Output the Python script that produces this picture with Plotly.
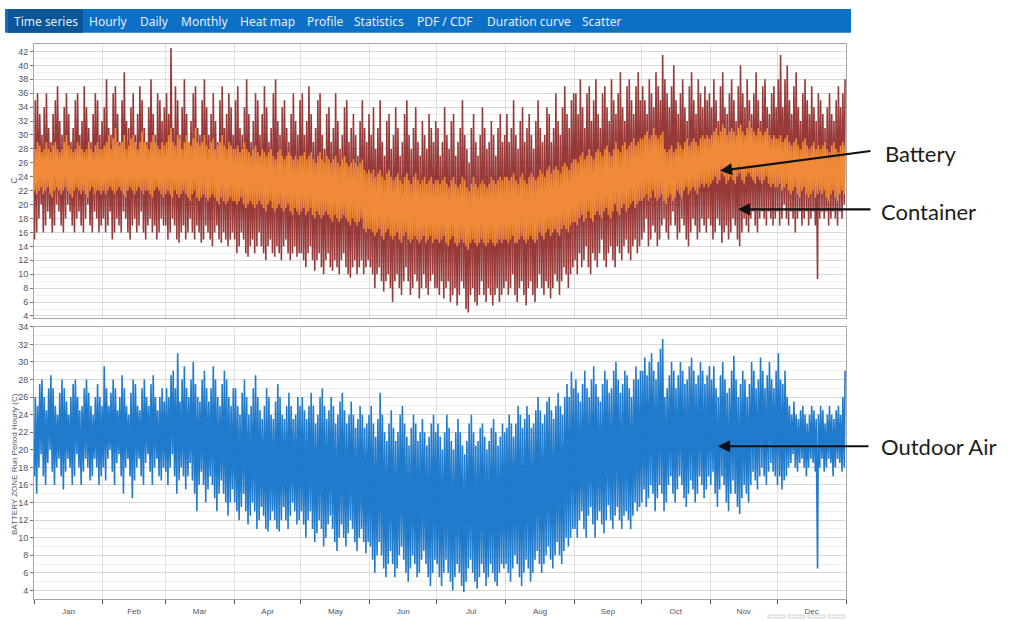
import datetime as dt
import plotly.graph_objects as go

W, H = 1012, 621

# ---- daily maxima / minima (deg C), Jan..Dec ----
container_hi = [
    35,36,33,30,34,36,31,29,33,35,37,32,30,34,36,33,29,31,35,36,30,32,37,34,31,29,33,36,35,30,32,
    34,38,31,30,36,37,33,29,35,39,32,31,34,36,30,33,37,35,31,29,34,38,33,30,36,35,32,34,
    36,33,42.5,31,37,35,30,34,38,33,29,32,36,37,31,30,35,38,34,30,33,36,32,29,35,37,31,33,36,34,30,
    35,37,31,30,34,38,33,29,32,36,35,30,33,37,34,29,31,36,38,32,30,34,35,31,29,33,36,32,30,35,
    36,30,32,37,33,29,31,35,36,30,28,33,34,29,31,36,32,28,30,34,35,29,31,33,30,27,32,35,31,29,33,
    30,34,28,31,35,29,27,32,33,28,30,34,31,27,29,33,35,30,28,31,34,29,27,32,30,28,33,31,29,32,
    31,27,29,34,30,28,32,33,27,29,31,35,30,28,26,31,33,29,27,30,34,31,28,29,32,30,27,31,33,29,30,
    33,29,31,35,30,28,32,34,29,31,33,30,28,32,35,31,29,30,34,33,29,31,36,32,30,34,37,33,31,35,36,
    36,33,38,34,31,36,37,32,35,38,33,31,36,37,34,32,38,35,33,36,39,34,32,37,38,35,33,37,39,35,
    37,35,33,38,36,34,39,37,35,41.5,38,36,34,37,40,35,33,36,38,34,32,37,39,35,33,38,36,34,37,35,36,
    34,38,35,32,37,39,34,33,36,38,35,32,37,40,36,34,38,35,33,36,39,35,32,37,38,34,33,36,37,34,
    38,41.5,34,38,40,35,33,37,39,34,32,36,38,35,33,37,34,32,36,35,33,31,34,36,33,32,35,37,34,36,38,
]
container_lo = [
    15,16,18,20,16,17,19,18,16,17,20,19,17,16,18,20,19,17,16,18,19,17,16,18,20,17,16,19,18,16,17,
    18,16,17,19,15,16,18,17,16,19,18,16,15,17,18,16,17,19,16,15,17,18,16,17,15,16,18,17,
    17,15,16,18,17,15,14.5,16,17,15,16,18,16,15,17,16,14.5,15,17,16,15,14,16,17,15,14.5,16,15,14,15,16,
    15,13,14,16,15,13,12.5,14,15,13,14,16,14,13,12,14,15,13,12.5,14,13,12,14,15,13,12,13,14,12.5,13,
    13,12,11,13,14,12,10.5,12,13,11,10,12,13,11,10.5,12,11,10,12,13,11,10,9.5,11,12,10,11,12,10,11,12,
    11,10,8,10,11,9,7.5,9,10,8,6,9,10,8,7,9,11,9,7,8,10,9,6.5,8,10,8,7,9,10,8,
    8,7,9,6.5,8,9,6,7,8,5.5,7,9,8,5,4.5,7,8,6,5.5,7,9,7,6,8,7,5.5,7,8,6,7,8,
    9,7,8,10,7,6,8,9,7,5.5,8,9,7,6,8,10,8,7,9,8,6.5,8,10,9,7,9,11,10,8,10,11,
    12,10,13,11,12,14,11,10,13,12,11,13,15,12,11,13,14,12,11,14,13,12,14,15,13,12,14,15,13,14,
    15,16,18,14,15,17,16,14,15,17,18,16,15,17,19,17,15,16,18,17,15,14,16,18,17,15,16,18,17,16,18,
    17,15,16,18,17,14.5,16,17,15,16,18,17,15,14,16,18,17,16,18,19,17,16,18,19,18,17,19,18,17,18,
    19,17,18,20,18,17,19,18,16,18,19,17,18,19,17,18,19,17,9.3,18,19,18,19,17,18,19,18,17,19,18,20,
]
battery_hi = [
    28,29,28.5,27.5,28,29,28,27.5,28.5,29,28,27.5,28,29,30,28.5,28,27.5,28,29,28.5,28,27.5,28,29,28,27.5,28.5,29,28,28,
    28.5,29,30,28,29.5,31,29,28.5,29,30,28,28.5,29.5,30,29,28,29,30.5,29,28.5,28,29,30,29,28.5,28,29,28.5,
    29,30,31,29,28.5,30,29.5,28,29,30,29,28.5,29.5,31,29,28.5,29,30,28.5,28,29,29.5,28,28.5,29,30,28.5,28,29,28.5,28,
    28,28.5,27.5,28,29,28,27.5,27,28,28.5,27.5,27,28,27.5,27,27.5,28,27,26.5,27.5,28,27,26.5,27,27.5,27,26.5,27,26.5,27,
    27,27.5,26.5,27,27.5,26.5,26,27,27.5,26.5,26,27,26.5,26,26.5,27,26,25.5,26.5,27,26,25.5,26,26.5,26,25.5,26,26.5,25,24.5,25,
    24.5,25,24,24.5,25,24,23.5,24.5,25,24,23.5,24,24.5,23.5,23,24,24.5,23.5,23,24,24.5,23.5,23,23.5,24,23,23.5,24,23,23.5,
    23.5,23,23.5,24,23,22.5,23.5,24,23,22.5,23,24,23.5,22.5,22,23,24,23,22.5,23,23.5,23,22.5,23,24,23.5,23,23.5,24,23.5,24,
    24,23.5,24,24.5,23.5,23,24,24.5,23.5,23,24,24.5,24,23.5,24,25,24.5,24,25,25.5,24.5,25,25.5,25,24.5,25.5,26,25.5,25,26,26.5,
    26.5,26,27,27.5,26.5,27,28,27,26.5,27.5,28,27.5,27,28,28.5,27.5,27,28,29,28,27.5,28.5,29,28,28.5,29,29.5,28.5,29,29.5,
    29.5,30,30.5,29.5,30,31,30,29.5,30,30.5,28,27.5,28,28.5,27.5,28,29,28.5,28,29,29.5,28.5,29,29.5,29,28.5,29.5,30,29.5,30,29.5,
    30,30.5,31,30,30.5,31.5,31,30,30.5,31,30.5,30,31,31.5,30.5,30,31,32,31,30.5,30,31,30.5,30,30.5,31,30,29.5,30,29.5,
    29.5,30,29,29.5,30,29,28.5,29,29.5,28.5,28,29,29.5,28.5,28,28.5,29,28,28.5,28,28.5,29,28,27.5,28.5,29,28,27.5,28.5,29,28.5,
]
battery_lo = [
    22,21.5,22,22.5,21.5,22,22.5,21.5,21,22,22.5,22,21.5,22,22.5,22,21.5,21,22,22.5,22,21.5,22,21.5,21,22,22.5,21.5,22,22,21.5,
    22,21.5,22,22.5,22,21.5,22,22.5,22,21.5,21,22,22.5,22,21.5,22,22.5,22,21.5,22,22,21.5,21,22,22.5,22,21.5,21,
    21.5,22,21.5,21,22,21.5,21,21.5,22,21.5,21,20.5,21.5,22,21,20.5,21,21.5,21,20.5,21,21.5,21,20.5,20,21,20.5,20,20.5,21,20.5,
    20.5,20,20.5,21,20,19.5,20,20.5,20,19.5,20,20.5,20,19.5,19,20,20.5,19.5,19,19.5,20,19.5,19,19.5,20,19,18.5,19.5,19,18.5,
    19,19.5,18.5,19,19.5,18.5,18,19,18.5,18,18.5,19,18.5,18,17.5,18.5,18,17.5,18,18.5,18,17.5,17,18,17.5,17,17.5,18,16.5,16,16.5,
    16.5,16,15.5,16,16.5,15.5,15,16,16.5,15.5,15,15.5,16,15,14.5,15.5,16,15,14.5,15,15.5,15,14.5,15,15.5,14.5,15,15.5,14.5,15,
    15,14.5,15,15.5,14.5,14,15,15.5,14.5,14,14.5,15,14.5,14,13.5,14.5,15,14.5,14,14.5,15,14.5,14,14.5,15,14.5,14,14.5,15,14.5,15,
    15,14.5,15,15.5,14.5,14.5,15,15.5,15,14.5,15,15.5,15,14.5,15,16,15.5,15,16,16.5,15.5,16,16.5,16,15.5,16.5,17,16.5,16,17,17.5,
    17.5,17,18,18.5,17.5,18,19,18,17.5,18.5,19,18.5,18,19,19.5,18.5,18,19,20,19,18.5,19.5,20,19,19.5,20,20.5,19.5,20,20.5,
    20.5,21,21.5,20.5,21,22,21,20.5,21,21.5,20.5,20,21,21.5,20.5,21,22,21.5,21,22,22.5,21.5,22,22.5,22,21.5,22.5,23,22.5,23,22.5,
    23,23.5,24,23,23.5,24.5,24,23,23.5,24,23.5,23,24,24.5,23.5,23,24,24.5,24,23.5,23,24,23.5,23,23.5,24,23,22.5,23,22.5,
    22.5,23,22,22.5,23,22,21.5,22,22.5,21.5,21,22,22.5,21.5,21,21.5,22,21,21.5,22,21.5,22,21,20.5,21.5,22,21,20.5,21.5,22,21.5,
]
outdoor_hi = [
    26,25,27.5,28,26,24.5,27,28.5,27,25,24,26.5,28,27,25.5,24,26,27.5,28,26,24.5,25,27,28,26.5,25,24,26,27.5,26,25,
    29.5,27,25,26.5,28,27,24.5,26,28.5,27,25,24,26.5,28,27.5,25,24.5,27,28,26,25,27.5,28.5,26,24.5,26,27,25.5,
    27,26,28.5,29,27,31,25.5,28,29.5,27,26,28,30,27.5,26,25.5,28,29,27,25.5,27,29.5,28,26,25,27.5,29,28,26,25,27,
    27,25,24,26.5,28,26,24,25,27,28.5,26,24.5,23.5,25,27,26,24,23.5,25.5,27.5,26,24,23.5,25,26.5,25,23.5,24,26,25,
    26,24.5,23.5,25,26.5,25,23,24,26,27,25,23.5,24.5,26,25,23,24,25.5,26.5,24.5,23,24,25.5,24,22.5,23.5,25,24,22.5,23,24,
    25,23,21.5,23.5,26.5,24,22,21,23,24.5,22.5,21,22,24,25,23,21.5,20.5,22.5,24,23,21,22,23.5,22,20.5,21.5,23,24,22,
    23,21.5,20,22,24,22.5,21,20,22,23.5,22,20.5,19.5,21,23,24,22,20.5,21,22.5,23,21.5,20,21,22.5,23.5,22,20.5,21.5,23,22,
    22.5,24,23,21.5,23,25,24,22.5,23.5,25,24,22.5,23,24.5,26,24.5,23,24,25.5,26,24.5,23.5,25,26.5,25,24,26,27.5,26,28.9,27,
    28,26.5,25.5,27.5,29,27,26,28,29.5,27.5,26,25.5,27.5,29,28,26.5,27,29,30,28,26.5,27.5,29,28.5,27,26,28,29.5,28,29,
    29,30.5,28.5,30,31,29,28,30,31.5,32.6,26,27,28.5,30,29,27,28.5,30,29,27.5,28,29.5,30.5,29,27.5,28.5,30,29,27.5,28.5,29.5,
    28,29.5,27,26,28.5,30,28,26.5,27,29,30.7,28,26,27.5,29,28,26,27.5,30,29,27,28,30.5,29,27,28.5,30,28,27,29,
    31,28,27.5,29,26,25,24,25.5,24,23.5,24.5,25,24,23,24,25,24.5,23.5,24,25,24.5,23,24,25,24,23.5,24.5,25,24,26,29,
]
outdoor_lo = [
    17,15,18,19.5,17,16,18.5,20,17.5,16,18,19,17,15.5,17.5,19,18,16,17,19.5,18,16,17.5,19,18,16.5,17,19,18,16,17,
    18,16.5,19,20,17.5,16,18.5,19.5,17,15,18,19,17,14.5,16.5,18,19,17,16,18.5,19.5,17.5,16,18,19,17,16.5,18,
    17.5,16,18,19.5,17,15,16.5,18,17,15.5,17,18.5,16.5,15,13,16,17.5,16,14,15.5,17,16,14.5,13,15,16.5,15,14,12.5,14,15.5,
    14,13,12,13.5,15,13,11.5,12.5,14,13,11,12,13.5,12.5,11,10.7,12,13,12,11,10.7,12,13.5,12,11,12.5,14,13,11.5,12,
    13,11.5,10,12,13,11,9.5,10.5,12,11,9,10,11.5,12.5,11,9.5,8.5,10,11.5,10,9,10.5,12,11,9.5,8.5,10,11,9.5,8.2,9.5,
    9,7.5,6,8,9.5,8,6.5,5.5,7,8.5,7,5.5,6.5,8,9,7.5,6,5,6.5,8,7,5.5,6,7.5,8.5,7,5.5,4.5,6,7.5,
    7,5.5,4.5,6,7.5,6,5,4,5.5,7,6,4.5,3.8,5,6.5,7.5,6,5,4.2,5.5,7,6,4.5,5.5,7,6,5,4.5,6,7,6.5,
    7,6,5,6.5,8,7,5.5,4.5,6,7.5,6.5,5,6,7.5,8.5,7,6,7,8,9,7.5,6.5,8,9.5,8,7,8.5,10,9,10,11,
    11,10,12,13,11,10,12.5,13.5,11.5,10,12,13,11.5,10.5,12,13.7,12,11,12.5,13.5,12,11,12.5,13,12,11,12.5,14,13,13.5,
    14,15.5,13.5,14.5,16,15,13,14.5,16,15,13,14,16,17,15,14,15.5,17,16,14.5,13.5,15,16.5,15.5,14,15,17,16,14.5,15.5,17,
    16,17.5,15,13.5,15.5,17,16,14,13,15,16.5,15,13.5,12.7,14.5,16,15,14,16,17.5,16.5,15.5,17,18,17,16,17.5,18.5,17.5,17,
    16,17,15.5,16.5,17,18,18.5,19.5,18,17.5,18.5,19,18,17,18,19,18.5,17.5,6.5,18,19,17.5,18,19,18.5,17,18,19,18.5,17.5,18,
]

tabs = ["Time series", "Hourly", "Daily", "Monthly", "Heat map", "Profile",
        "Statistics", "PDF / CDF", "Duration curve", "Scatter"]
tab_centers = [45.5, 108, 154, 204, 267, 325, 379, 444.5, 528.5, 601.5]

YEAR0 = dt.datetime(2019, 1, 1)


def zigzag(lo, hi):
    xs, ys = [], []
    for d, (a, b) in enumerate(zip(lo, hi)):
        day = YEAR0 + dt.timedelta(days=d)
        xs += [day + dt.timedelta(hours=5), day + dt.timedelta(hours=14)]
        ys += [a, b]
    return xs, ys


def px(x):
    return x / W


def py(y):
    return 1 - y / H


fig = go.Figure()
cx, cy = zigzag(container_lo, container_hi)
bx, by = zigzag(battery_lo, battery_hi)
ox, oy = zigzag(outdoor_lo, outdoor_hi)

fig.add_trace(go.Scatter(x=cx, y=cy, mode="lines", name="Container",
                         line=dict(color="rgba(135,24,24,0.85)", width=1.6),
                         xaxis="x", yaxis="y"))
fig.add_trace(go.Scatter(x=bx, y=by, mode="lines", name="Battery",
                         line=dict(color="rgba(250,148,56,0.9)", width=1.6),
                         xaxis="x", yaxis="y"))
fig.add_trace(go.Scatter(x=ox, y=oy, mode="lines", name="Outdoor Air",
                         line=dict(color="rgba(14,112,200,0.92)", width=1.6),
                         xaxis="x2", yaxis="y2"))

tickfont = dict(family="Liberation Sans Narrow, Liberation Sans, Arial", size=9, color="#4d5566")
xcommon = dict(type="date", range=["2019-01-01", "2020-01-01"], dtick="M1",
               tick0="2019-01-01", showgrid=True, gridcolor="#dedede", gridwidth=1,
               showline=True, mirror=True, linecolor="#a6a6a6", linewidth=1,
               zeroline=False)
ycommon = dict(tickmode="linear", tick0=4, dtick=2, showgrid=True, gridcolor="#d9d9d9",
               minor=dict(dtick=1, showgrid=True, gridcolor="#efefef"),
               showline=True, mirror=True, linecolor="#a6a6a6", linewidth=1,
               ticks="outside", ticklen=3, tickcolor="#777", tickfont=tickfont,
               zeroline=False)

fig.update_layout(
    width=W, height=H, margin=dict(l=0, r=0, t=0, b=0),
    paper_bgcolor="white", plot_bgcolor="white", showlegend=False,
    xaxis=dict(**xcommon, domain=[px(34), px(846)], anchor="y", showticklabels=False, ticks=""),
    yaxis=dict(**ycommon, domain=[py(317), py(40)], range=[3.72, 43.0], anchor="x"),
    xaxis2=dict(**xcommon, domain=[px(34), px(846)], anchor="y2", matches="x",
                ticklabelmode="period", tickformat="%b", ticks="outside", ticklen=4,
                tickcolor="#555", tickfont=dict(family="Liberation Sans Narrow, Liberation Sans, Arial",
                                                size=8, color="#4d5566")),
    yaxis2=dict(**ycommon, domain=[py(602), py(326)], range=[3.0, 34.0], anchor="x2"),
)

shapes = [
    dict(type="rect", xref="paper", yref="paper", x0=px(5), x1=px(851), y0=py(28), y1=py(4),
         fillcolor="#0b70c6", line=dict(width=0), layer="below"),
    dict(type="rect", xref="paper", yref="paper", x0=px(8), x1=px(83), y0=py(28), y1=py(4),
         fillcolor="#0a5698", line=dict(width=0), layer="below"),
]
for i in range(4):
    x0 = 768 + i * 20
    shapes.append(dict(type="rect", xref="paper", yref="paper", x0=px(x0), x1=px(x0 + 17),
                       y0=py(621), y1=py(618), fillcolor="#f6f6f6",
                       line=dict(color="#d6d6d6", width=1)))
fig.update_layout(shapes=shapes)

ann = []
for t, c in zip(tabs, tab_centers):
    ann.append(dict(text=t, x=px(c), y=py(16.5), xref="paper", yref="paper", showarrow=False,
                    xanchor="center", yanchor="middle",
                    font=dict(family="Noto Sans, Open Sans", size=12, color="#e6eef8")))
ann.append(dict(text="C", x=px(14), y=py(178), xref="paper", yref="paper", showarrow=False,
                xanchor="center", yanchor="middle",
                textangle=-90, font=dict(family="Liberation Sans", size=9, color="#555c6a")))
ann.append(dict(text="BATTERY ZONE Run Period Hourly (C)", x=px(14), y=py(465), xref="paper",
                yref="paper", showarrow=False, textangle=-90, xanchor="center", yanchor="middle",
                font=dict(family="Liberation Sans Narrow, Liberation Sans", size=8, color="#555c6a")))
labfont = dict(family="Lato, Open Sans", size=22, color="#1c1c1c")
ann.append(dict(text="Battery", x=px(883), y=py(150), xref="paper", yref="paper",
                showarrow=False, xanchor="left", yanchor="middle", font=labfont))
ann.append(dict(text="Container", x=px(879), y=py(209), xref="paper", yref="paper",
                showarrow=False, xanchor="left", yanchor="middle", font=labfont))
ann.append(dict(text="Outdoor Air", x=px(879), y=py(447), xref="paper", yref="paper",
                showarrow=False, xanchor="left", yanchor="middle", font=labfont))
for hx, hy, tx, ty in [(720, 168, 872, 148), (738, 207, 872, 207), (718, 447, 870, 447)]:
    ann.append(dict(text="", x=px(hx), y=py(hy), xref="paper", yref="paper", showarrow=True,
                    ax=tx - hx, ay=ty - hy, arrowhead=2, arrowsize=1.1, arrowwidth=2.2,
                    arrowcolor="#111"))
fig.update_layout(annotations=ann)

fig.write_html("out.html", config={"displayModeBar": False},
               post_script="document.body.style.margin='0';document.body.style.overflow='hidden';")
